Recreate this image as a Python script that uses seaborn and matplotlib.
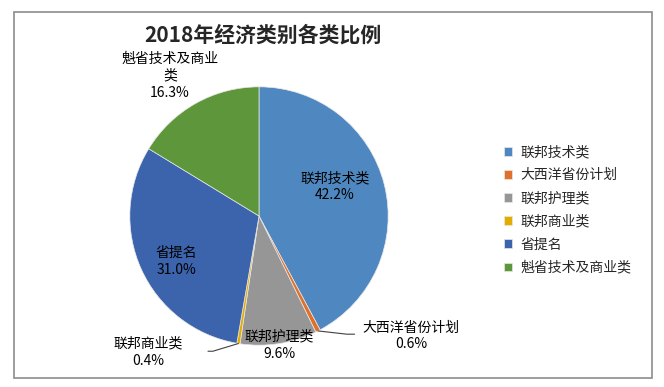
import numpy as np
import matplotlib
matplotlib.use("Agg")
import matplotlib.pyplot as plt
import seaborn as sns

# data
categories = ["联邦技术类", "大西洋省份计划", "联邦护理类", "联邦商业类", "省提名", "魁省技术及商业类"]
shares = [42.2, 0.6, 9.6, 0.4, 31.0, 16.3]
colors = ["#4F88C0", "#E0702A", "#969696", "#E5AC00", "#3B64AD", "#5E973B"]
title = "2018年经济类别各类比例"

sns.set_theme(style="white")
plt.rcParams["font.family"] = ["Noto Sans CJK SC", "DejaVu Sans"]

fig = plt.figure(figsize=(6.64, 3.87), dpi=100)
fig.patch.set_facecolor("white")

# outer chart frame
frame = plt.Rectangle((14 / 664, 1 - 378 / 387), 638 / 664, 366 / 387,
                      transform=fig.transFigure, fill=False, edgecolor="#8C8C8C", linewidth=1.2)
fig.patches.append(frame)

ax = fig.add_axes([104 / 664, 16 / 387, 310 / 664, 310 / 387])
wedges, _ = ax.pie(shares, colors=sns.color_palette(colors), startangle=90, counterclock=False,
                   radius=1.0, wedgeprops=dict(edgecolor="#E8E8E8", linewidth=0.5))
ax.set_xlim(-1.2, 1.2)
ax.set_ylim(-1.2, 1.2)
ax.set_aspect("equal")
ax.axis("off")

# label layout (best fit style): text centre per slice, in data units
label_pos = [(0.589, 0.229), (1.178, -0.93), (0.155, -1.0), (-0.86, -1.054), (-0.64, -0.35), (-0.69, 1.085)]
label_text = ["联邦技术类", "大西洋省份计划", "联邦护理类", "联邦商业类", "省提名", "魁省技术及商业\n类"]
for w, name, pct, (x, y) in zip(wedges, label_text, shares, label_pos):
    ax.text(x, y, f"{name}\n{pct:.1f}%", ha="center", va="center", fontsize=10,
            color="black", linespacing=1.25, clip_on=False)

# leader lines for the two thin slices
for idx, (ex, ey), (hx, hy) in [(1, (0.68, -0.915), (0.74, -0.915)), (3, (-0.357, -1.047), (-0.395, -1.047))]:
    w = wedges[idx]
    mid = np.deg2rad((w.theta1 + w.theta2) / 2)
    sx, sy = np.cos(mid), np.sin(mid)
    ax.plot([sx, ex, hx], [sy, ey, hy], color="#404040", linewidth=0.8, clip_on=False)

fig.text(263 / 664, 1 - 35 / 387, title, ha="center", va="center", fontsize=15, fontweight="bold")

fig.legend(wedges, categories, loc="center left", bbox_to_anchor=(498 / 664, 1 - 210 / 387),
           frameon=False, fontsize=10, handlelength=0.6, handleheight=0.6, handletextpad=0.6,
           labelspacing=0.66, borderaxespad=0)

fig.savefig("out.png", dpi=100)
